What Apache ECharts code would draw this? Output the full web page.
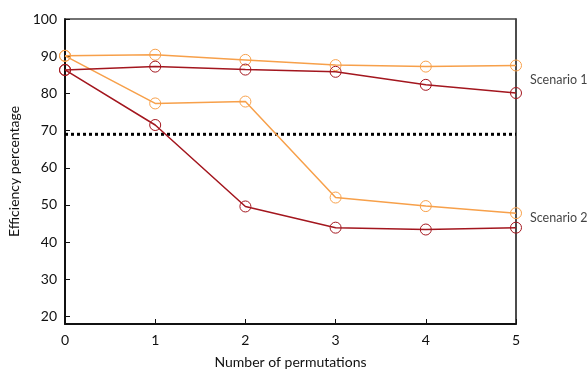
<!DOCTYPE html>
<html><head><meta charset="utf-8">
<script src="https://cdn.jsdelivr.net/npm/echarts@6/dist/echarts.min.js"></script>
<style>html,body{margin:0;padding:0;background:#fff}#c{width:587px;height:369px}</style>
</head><body><div id="c"></div>
<script>
var permutations = [0, 1, 2, 3, 4, 5];
var s1Orange = [90.1, 90.4, 89.0, 87.6, 87.2, 87.5];
var s1Red    = [86.3, 87.2, 86.4, 85.8, 82.3, 80.1];
var s2Orange = [90.1, 77.3, 77.8, 52.0, 49.7, 47.8];
var s2Red    = [86.3, 71.5, 49.6, 43.9, 43.4, 43.9];
var threshold = 69;
var yTicks = [20, 30, 40, 50, 60, 70, 80, 90, 100];
var scenarioLabels = ['Scenario 1', 'Scenario 2'];
var scenarioLabelY = [83.7, 46.5];

var ORANGE = '#F7A04A', RED = '#A3161E';
var FONT = 'Lato';
var TXT = '#111';
function pts(arr){ return permutations.map(function(x,i){ return [x, arr[i]]; }); }
function lineSeries(arr, color){
  return { type:'line', data: pts(arr), symbol:'circle', symbolSize:11,
    showSymbol:true, lineStyle:{color:color, width:1.5},
    itemStyle:{color:'rgba(255,255,255,0)', borderColor:color, borderWidth:1}, z:3, animation:false };
}
var chart = echarts.init(document.getElementById('c'), null, {renderer:'canvas'});
chart.setOption({
  animation:false,
  grid:{left:65, right:71, top:19, bottom:45, containLabel:false, outerBoundsMode:'none'},
  xAxis:[{type:'value', min:0, max:5, interval:1,
    name:'Number of permutations', nameLocation:'middle', nameGap:31,
    nameTextStyle:{fontFamily:FONT, fontSize:14, color:TXT},
    axisLine:{show:true, onZero:false, lineStyle:{color:'#111', width:2}},
    axisTick:{show:true, inside:true, length:5, lineStyle:{color:'#111', width:1}},
    axisLabel:{fontFamily:FONT, fontSize:14, color:TXT, margin:9},
    splitLine:{show:false}},
   {type:'value', position:'top', min:0, max:5, interval:1,
    axisLine:{show:true, onZero:false, lineStyle:{color:'#444', width:1.5}},
    axisTick:{show:false}, axisLabel:{show:false}, splitLine:{show:false}}],
  yAxis:[{type:'value', min:18, max:100,
    name:'Efficiency percentage', nameLocation:'middle', nameGap:41, nameRotate:90,
    nameTextStyle:{fontFamily:FONT, fontSize:14, color:TXT},
    axisLine:{show:true, onZero:false, lineStyle:{color:'#111', width:2}},
    axisTick:{show:true, inside:true, length:5, customValues:yTicks, lineStyle:{color:'#111', width:1}},
    axisLabel:{fontFamily:FONT, fontSize:14, color:TXT, margin:8, customValues:yTicks},
    splitLine:{show:false}},
   {type:'value', position:'right', min:18, max:100,
    axisLine:{show:true, onZero:false, lineStyle:{color:'#111', width:1.5}},
    axisTick:{show:false}, axisLabel:{show:false}, splitLine:{show:false}}],
  series:[
    {type:'line', data:[[0,threshold],[5,threshold]], symbol:'none',
     lineStyle:{color:'#000', width:3, type:[3,3]}, z:2, animation:false},
    lineSeries(s1Orange, ORANGE),
    lineSeries(s2Orange, ORANGE),
    lineSeries(s1Red, RED),
    lineSeries(s2Red, RED),
    {type:'scatter', symbolSize:0, data: scenarioLabels.map(function(t,i){ return {value:[5, scenarioLabelY[i]], name:t}; }),
     label:{show:true, position:'right', distance:14, formatter:'{b}', fontFamily:FONT, fontSize:12.5, color:'#111'},
     silent:true, animation:false}
  ]
});
</script></body></html>
